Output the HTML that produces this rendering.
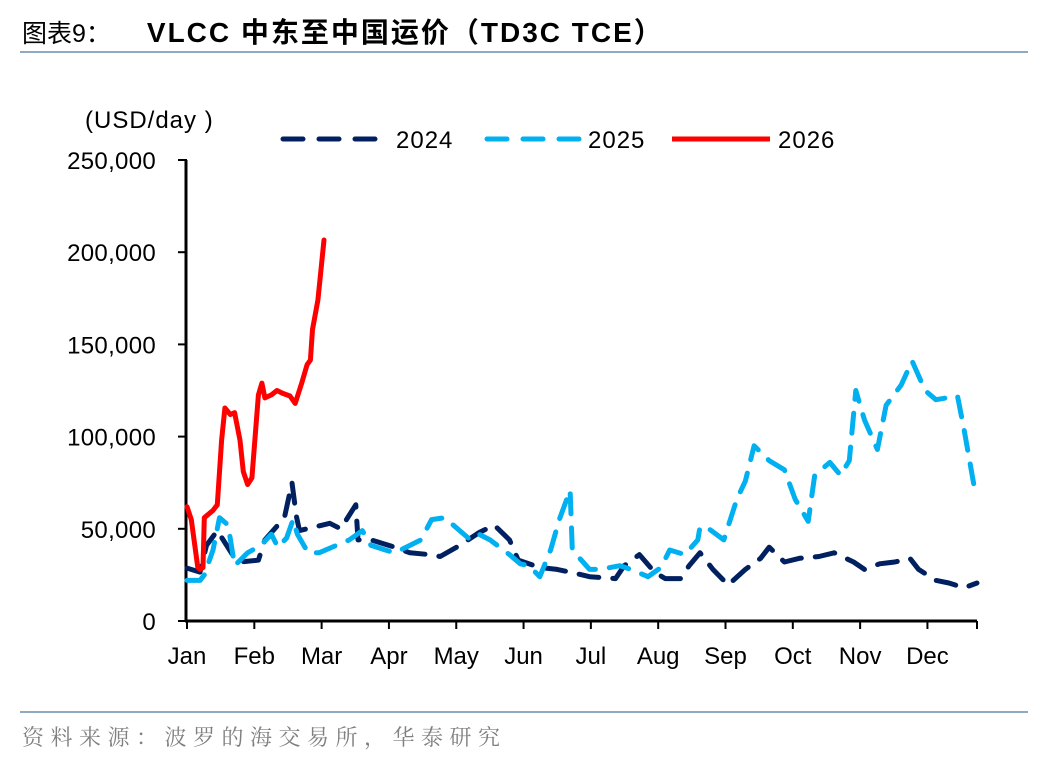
<!DOCTYPE html>
<html><head><meta charset="utf-8">
<style>
body{margin:0;background:#fff;width:1048px;height:760px;overflow:hidden;font-family:"Liberation Sans","Noto Sans CJK SC",sans-serif;}
</style></head>
<body>
<svg id="c" width="1048" height="760" xmlns="http://www.w3.org/2000/svg">
<text x="22" y="42" font-size="25" fill="#000" font-family="Liberation Sans,Noto Sans CJK SC,sans-serif">图表9：<tspan font-weight="bold" dx="36" font-size="28" letter-spacing="2">VLCC 中东至中国运价（TD3C TCE）</tspan></text>
<line x1="20" y1="52" x2="1028" y2="52" stroke="#8EA9C1" stroke-width="2"/>
<line x1="20" y1="712" x2="1028" y2="712" stroke="#8EA9C1" stroke-width="2"/>
<text x="22" y="745" font-size="22" fill="#808080" letter-spacing="6.5" font-family="Noto Serif CJK SC,serif">资料来源：波罗的海交易所，华泰研究</text>
<text x="85" y="128" font-size="24" letter-spacing="1" fill="#000">(USD/day )</text>
<g>
<line x1="283" y1="139" x2="388" y2="139" stroke="#002060" stroke-width="5" stroke-dasharray="20,16" stroke-linecap="round"/>
<text x="396" y="148" font-size="24" letter-spacing="1">2024</text>
<line x1="487" y1="139" x2="580" y2="139" stroke="#00B0F0" stroke-width="5" stroke-dasharray="20,16" stroke-linecap="round"/>
<text x="588" y="148" font-size="24" letter-spacing="1">2025</text>
<line x1="672" y1="139" x2="770" y2="139" stroke="#FF0000" stroke-width="5"/>
<text x="778" y="148" font-size="24" letter-spacing="1">2026</text>
</g>
<g id="axes"></g>
<g id="series"></g>
</svg>
<script>
const yTicks=[0,50000,100000,150000,200000,250000];
const yTickLabels=["0","50,000","100,000","150,000","200,000","250,000"];
const months=["Jan","Feb","Mar","Apr","May","Jun","Jul","Aug","Sep","Oct","Nov","Dec"];
const monthTickDays=[0,31.1,62.2,93.3,124.4,155.5,186.6,217.7,248.8,279.9,311,342.1,365];
const days2024=[0,6,9,14,21,24.5,33,36,45,48.5,50.5,52,66,71,78,79,85,96,103,112,117,126,135,142,149,153,163,171,179,186,198,202,209,216,221,228,232,237,243,250,258,265,269,276,283,292,299,308,313,320,327,334,338,346,352,359,365];
const vals2024=[28.7,26.5,41,49,36,32,33,44,56,75,57,49,53,50,63,44,44,40,37,36,35,41,48,52,44,33,29,28,26,24,23,30,36,26.5,23,23,30,37,28,19.5,28,34,40,32,34,35,37,32,28,31,32,34,28,22,20.6,18,20.6];
const days2025=[0,6,8,12,15,19,22,28,34,39,42,46,49,51,56,61,69,75,81,85,93,96,103,108,113,119,126,131,135,140,149,154,158,163,168,172,177,178,186,191,200,205,213,219,223,230,236,237,240,248,254,258,262,269,276,281,287,290,297,302,306,309,313,319,323,330,335,341,346,356,359,364];
const vals2025=[22,22,25,38.5,56,52,30,37,41,47,40,45,55,47,37,37,41,44,49,41,38,37,41,44,55,56,49,44,47,44,36,31,30,24,38.5,55,71,38.5,28,28,30,28,24,29,38.5,36,44,51,51,44,66,76,95,87,82,66,54,79,86,79,87,125,109,93,117,128,141,125,120,122,104,71];
const days2026=[0,2,5,6,7.4,8,12,14,16,17.5,20,22,24.5,26,28,30,33,34.6,36,39,41.6,44,47.6,50,53,55.5,57,58,60.5,63.3];
const vals2026=[62,55,29,28,29,56,60,63,98,115.5,112,113,98,81,74,77.6,122.6,129,121,122.6,125,123.6,122,118,129,139,141.5,158,174,206.6];

const NS="http://www.w3.org/2000/svg";
const X0=187,X1=977,Y0=621,Y1=160;
const xs=d=>X0+d*(X1-X0)/365;
const ys=v=>Y0-v*(Y0-Y1)/250000;
function mk(t,a,p){const e=document.createElementNS(NS,t);for(const k in a)e.setAttribute(k,a[k]);p.appendChild(e);return e;}
const ax=document.getElementById('axes');
const yl=mk('line',{x1:X0-1,y1:Y1,x2:X0-1,y2:Y0+1,stroke:'#000','stroke-width':3},ax);


const xl=mk('line',{x1:X0-2,y1:Y0,x2:X1,y2:Y0,stroke:'#000','stroke-width':3},ax);


yTicks.forEach((v,i)=>{
 const t=mk('line',{x1:X0-9,y1:ys(v),x2:X0,y2:ys(v),stroke:'#000','stroke-width':2},ax);
 
 
 const l=mk('text',{x:156,y:ys(v)+9,'font-size':24,'letter-spacing':0.3,'text-anchor':'end'},ax);l.textContent=yTickLabels[i];
 
 
});
monthTickDays.forEach((d,i)=>{
 const t=mk('line',{x1:xs(d),y1:Y0,x2:xs(d),y2:Y0+8,stroke:'#000','stroke-width':2},ax);
 
 
 if(i<12){const l=mk('text',{x:xs(d),y:664,'font-size':24,'text-anchor':'middle'},ax);l.textContent=months[i];
 
 }
});
const sg=document.getElementById('series');
function series(days,vals,color,dash,name){
 const d=days.map((dd,i)=>(i?'L':'M')+xs(dd).toFixed(1)+','+ys(vals[i]*1000).toFixed(1)).join(' ');
 const a={d:d,fill:'none',stroke:color,'stroke-width':5,'stroke-linejoin':'round','stroke-linecap':'round'};
 if(dash)a['stroke-dasharray']='20,14';
 const p=mk('path',a,sg);
 
 
}
series(days2024,vals2024,'#002060',true,'series-2024');
series(days2025,vals2025,'#00B0F0',true,'series-2025');
series(days2026,vals2026,'#FF0000',false,'series-2026');
</script>
</body></html>
